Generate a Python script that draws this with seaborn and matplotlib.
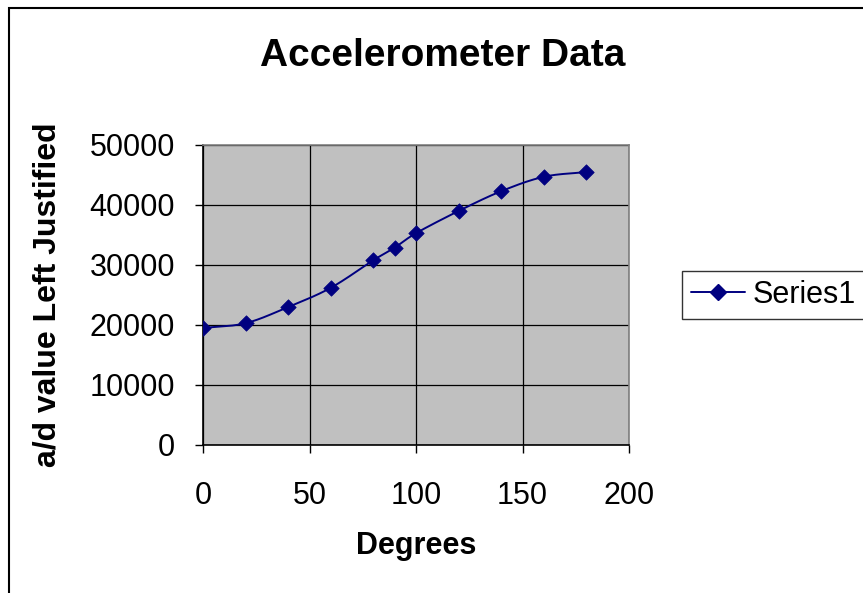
import numpy as np
import pandas as pd
import matplotlib
matplotlib.use("Agg")
import matplotlib.pyplot as plt
import seaborn as sns
from matplotlib.lines import Line2D
from matplotlib.patches import Rectangle


# DATA

degrees = [0, 20, 40, 60, 80, 90, 100, 120, 140, 160, 180]
ad_values = [19500, 20300, 23000, 26200, 30800, 32900, 35300, 39000, 42300, 44700, 45500]
x_ticks = [0, 50, 100, 150, 200]
y_ticks = [0, 10000, 20000, 30000, 40000, 50000]

df = pd.DataFrame({"Degrees": degrees, "value": ad_values})


# SMOOTH LINE (catmull-rom through the points, like excel "smoothed line")

def catmull_rom(xs, ys, n=30):
    # scale to axis ranges so the curve bends evenly
    px = np.array(xs, dtype=float) / 200.0
    py = np.array(ys, dtype=float) / 50000.0
    pts = np.column_stack([px, py])
    pts = np.vstack([pts[0] - (pts[1] - pts[0]), pts, pts[-1] + (pts[-1] - pts[-2])])
    out = []
    for i in range(1, len(pts) - 2):
        p0, p1, p2, p3 = pts[i - 1], pts[i], pts[i + 1], pts[i + 2]
        t = np.linspace(0, 1, n)[:, None]
        seg = 0.5 * ((2 * p1) + (-p0 + p2) * t
                     + (2 * p0 - 5 * p1 + 4 * p2 - p3) * t ** 2
                     + (-p0 + 3 * p1 - 3 * p2 + p3) * t ** 3)
        out.append(seg)
    out = np.vstack(out)
    return out[:, 0] * 200.0, out[:, 1] * 50000.0

sx, sy = catmull_rom(degrees, ad_values)
smooth = pd.DataFrame({"x": sx, "y": sy})


# PLOT

sns.set_style("white")
plt.rcParams["font.family"] = ["Liberation Sans", "DejaVu Sans"]
plt.rcParams["text.color"] = "black"
plt.rcParams["xtick.color"] = "black"
plt.rcParams["ytick.color"] = "black"
plt.rcParams["axes.labelcolor"] = "black"

navy = "#000080"

fig = plt.figure(figsize=(8.63, 5.93), dpi=100)
ax = fig.add_axes([203 / 863, 1 - 445 / 593, 426 / 863, 300 / 593])
ax.set_facecolor("#C0C0C0")

sns.lineplot(data=smooth, x="x", y="y", ax=ax, color=navy, linewidth=1.4,
             sort=False, estimator=None, zorder=3)
sns.scatterplot(data=df, x="Degrees", y="value", ax=ax, color=navy, marker="D",
                s=62, edgecolor=navy, linewidth=0.5, zorder=4)

ax.set_xlim(0, 200)
ax.set_ylim(0, 50000)
ax.set_xticks(x_ticks)
ax.set_yticks(y_ticks)
ax.tick_params(axis="both", direction="out", length=6, width=1, colors="black",
               labelsize=22, bottom=True, left=True)
ax.tick_params(axis="y", pad=14)
ax.tick_params(axis="x", pad=20)
ax.grid(True, color="black", linewidth=0.9)
ax.set_axisbelow(True)

for side in ["left", "bottom"]:
    ax.spines[side].set_color("black")
    ax.spines[side].set_linewidth(1.2)
for side in ["top", "right"]:
    ax.spines[side].set_color("#808080")
    ax.spines[side].set_linewidth(1.2)

ax.set_xlabel("")
ax.set_ylabel("")

fig.text(443 / 863, 1 - 56 / 593, "Accelerometer Data", fontsize=28,
         fontweight="bold", ha="center", va="center", color="black")
fig.text(416 / 863, 1 - 546 / 593, "Degrees", fontsize=22,
         fontweight="bold", ha="center", va="center", color="black")
fig.text(47 / 863, 1 - 295 / 593, "a/d value Left Justified", fontsize=23,
         fontweight="bold", ha="center", va="center", rotation=90, color="black")

# legend
handle = Line2D([], [], color=navy, linewidth=1.4, marker="D", markersize=8,
                markerfacecolor=navy, markeredgecolor=navy)
leg = fig.legend([handle], ["Series1"], loc="center left",
                 bbox_to_anchor=(682 / 863, 1 - 295 / 593), fontsize=22,
                 frameon=True, fancybox=False, handlelength=1.75,
                 handletextpad=0.25, borderpad=0.3, borderaxespad=0)
leg.get_frame().set_edgecolor("black")
leg.get_frame().set_linewidth(1.0)
for txt in leg.get_texts():
    txt.set_color("black")

# outer chart border
fig.patches.append(Rectangle((9 / 863, -0.1), 1.2, 1 - 8 / 593 + 0.1,
                             transform=fig.transFigure, fill=False,
                             edgecolor="black", linewidth=1.5))

plt.savefig("out.png", dpi=100)
plt.close()
